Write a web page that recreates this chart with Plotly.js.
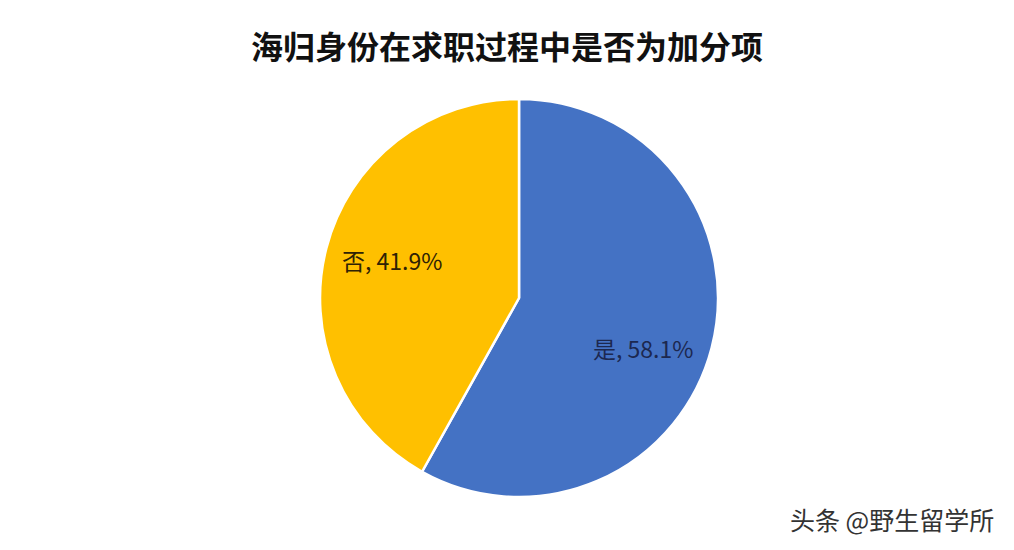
<!DOCTYPE html>
<html><head><meta charset="utf-8">
<script src="https://cdn.plot.ly/plotly-3.0.1.min.js"></script>
<style>html,body{margin:0;padding:0;background:#fff;}</style>
</head><body>
<div id="chart" style="width:1014px;height:550px;"></div>
<script>
const labels = ['是', '否'];
const values = [58.1, 41.9];
const colors = ['#4472C4', '#FFC000'];
const textColors = ['#1c2850', '#2e2205'];
const labelPos = [[0.634, 0.367], [0.387, 0.527]];

const trace = {
  type: 'pie',
  labels: labels,
  values: values,
  sort: false,
  direction: 'clockwise',
  rotation: 0,
  marker: {colors: colors, line: {color: '#ffffff', width: 2.5}},
  textinfo: 'none',
  hoverinfo: 'label+value',
  domain: {x: [0.3156, 0.7081], y: [0.0964, 0.82]},
  showlegend: false
};

const annotations = labels.map((l, i) => ({
  text: l + ', ' + values[i].toFixed(1) + '%',
  xref: 'paper', yref: 'paper', x: labelPos[i][0], y: labelPos[i][1],
  xanchor: 'center', yanchor: 'middle', showarrow: false,
  font: {family: 'Noto Sans CJK SC, sans-serif', size: 23, color: textColors[i]}
}));
annotations.push({
  text: '头条 @野生留学所',
  xref: 'paper', yref: 'paper', x: 0.982, y: 0.056,
  xanchor: 'right', yanchor: 'middle', showarrow: false,
  font: {family: 'Noto Sans CJK SC, sans-serif', size: 25, color: '#333333'}
});

const layout = {
  width: 1014, height: 550,
  margin: {l: 0, r: 0, t: 0, b: 0},
  paper_bgcolor: '#ffffff',
  title: {
    text: '<b>海归身份在求职过程中是否为加分项</b>',
    font: {family: 'Noto Sans CJK SC, sans-serif', size: 32, color: '#111111'},
    x: 0.5, xanchor: 'center', y: 0.913, yanchor: 'middle'
  },
  annotations: annotations
};

Plotly.newPlot('chart', [trace], layout, {displayModeBar: false});
</script>
</body></html>
